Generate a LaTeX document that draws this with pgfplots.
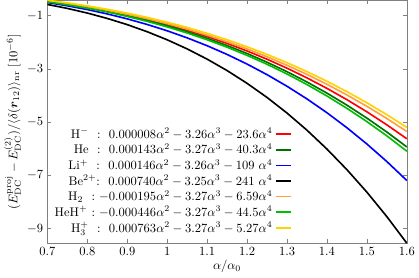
\documentclass[border=0pt]{standalone}
\usepackage{amsmath}
\usepackage{pgfplots}
\pgfplotsset{compat=1.18}
\definecolor{cdkgreen}{RGB}{0,110,0}
\definecolor{corange}{RGB}{255,160,60}
\definecolor{cgreen}{RGB}{0,190,0}
\definecolor{cyellow}{RGB}{255,210,0}
\begin{document}
\begin{tikzpicture}
\begin{axis}[
  scale only axis,
  width=287pt, height=194pt,
  xmin=0.7, xmax=1.6, ymin=-9.551, ymax=-0.4195,
  xtick={0.7,0.8,0.9,1,1.1,1.2,1.3,1.4,1.5,1.6},
  ytick={-9,-7,-5,-3,-1},
  tick align=inside,
  major tick length=3pt,
  axis line style={gray},
  every tick/.style={gray},
  xlabel={$\alpha/\alpha_0$},
  ylabel={$(E_{\mathrm{DC}}^{\mathrm{proj}}-E_{\mathrm{DC}}^{(2)})/\langle\delta(\boldsymbol{r}_{12})\rangle_{\mathrm{nr}}$ [$10^{-6}$]},
  xlabel style={yshift=3pt},
  ylabel style={yshift=-2pt},
  legend plot pos=right,
  legend cell align=right,
  legend style={draw=none, fill=none, at={(0.68,0.025)}, anchor=south east, inner sep=0pt, row sep=-1.2pt,
    /tikz/every even column/.append style={column sep=3pt}},
  legend image code/.code={\draw[#1, line width=1.3pt] (0pt,0pt) -- (12pt,0pt);},
  every axis plot/.append style={line width=1.3pt},
]
\addplot[red] coordinates {(0.70,-0.450)(0.75,-0.555)(0.80,-0.676)(0.85,-0.813)(0.90,-0.967)(0.95,-1.140)(1.00,-1.333)(1.05,-1.547)(1.10,-1.784)(1.15,-2.043)(1.20,-2.327)(1.25,-2.637)(1.30,-2.974)(1.35,-3.338)(1.40,-3.732)(1.45,-4.157)(1.50,-4.613)(1.55,-5.103)(1.60,-5.626)};
\addlegendentry{\makebox[2.3em][r]{H$^-$}\ \ :\ \ $0.000008\alpha^2-3.26\alpha^3-23.6\alpha^4$}
\addplot[cdkgreen] coordinates {(0.70,-0.460)(0.75,-0.568)(0.80,-0.693)(0.85,-0.835)(0.90,-0.995)(0.95,-1.176)(1.00,-1.377)(1.05,-1.602)(1.10,-1.849)(1.15,-2.122)(1.20,-2.422)(1.25,-2.749)(1.30,-3.105)(1.35,-3.492)(1.40,-3.911)(1.45,-4.363)(1.50,-4.850)(1.55,-5.373)(1.60,-5.934)};
\addlegendentry{\makebox[2.3em][r]{He}\ \ :\ \ $0.000143\alpha^2-3.27\alpha^3-40.3\alpha^4$}
\addplot[blue] coordinates {(0.70,-0.505)(0.75,-0.628)(0.80,-0.770)(0.85,-0.934)(0.90,-1.120)(0.95,-1.331)(1.00,-1.568)(1.05,-1.834)(1.10,-2.129)(1.15,-2.457)(1.20,-2.819)(1.25,-3.217)(1.30,-3.653)(1.35,-4.129)(1.40,-4.648)(1.45,-5.212)(1.50,-5.823)(1.55,-6.483)(1.60,-7.195)};
\addlegendentry{\makebox[2.3em][r]{Li$^+$}\ \ :\ \ $0.000146\alpha^2-3.26\alpha^3-109\ \alpha^4$}
\addplot[black] coordinates {(0.70,-0.578)(0.75,-0.727)(0.80,-0.901)(0.85,-1.104)(0.90,-1.337)(0.95,-1.604)(1.00,-1.907)(1.05,-2.249)(1.10,-2.634)(1.15,-3.064)(1.20,-3.543)(1.25,-4.074)(1.30,-4.660)(1.35,-5.305)(1.40,-6.014)(1.45,-6.788)(1.50,-7.633)(1.55,-8.553)(1.60,-9.551)};
\addlegendentry{\makebox[2.3em][r]{Be$^{2+}$}:\ \ $0.000740\alpha^2-3.25\alpha^3-241\ \alpha^4$}
\addplot[corange] coordinates {(0.70,-0.445)(0.75,-0.548)(0.80,-0.665)(0.85,-0.798)(0.90,-0.947)(0.95,-1.114)(1.00,-1.300)(1.05,-1.505)(1.10,-1.731)(1.15,-1.979)(1.20,-2.249)(1.25,-2.544)(1.30,-2.863)(1.35,-3.207)(1.40,-3.579)(1.45,-3.978)(1.50,-4.407)(1.55,-4.865)(1.60,-5.354)};
\addlegendentry{\makebox[2.3em][r]{H$_2$}\ \ :\ $-0.000195\alpha^2-3.27\alpha^3-6.59\alpha^4$}
\addplot[cgreen] coordinates {(0.70,-0.478)(0.75,-0.589)(0.80,-0.717)(0.85,-0.863)(0.90,-1.028)(0.95,-1.214)(1.00,-1.421)(1.05,-1.651)(1.10,-1.905)(1.15,-2.185)(1.20,-2.492)(1.25,-2.827)(1.30,-3.192)(1.35,-3.589)(1.40,-4.018)(1.45,-4.482)(1.50,-4.981)(1.55,-5.517)(1.60,-6.093)};
\addlegendentry{\makebox[2.3em][r]{HeH$^+$}\ :\ $-0.000446\alpha^2-3.27\alpha^3-44.5\alpha^4$}
\addplot[cyellow] coordinates {(0.70,-0.420)(0.75,-0.518)(0.80,-0.631)(0.85,-0.759)(0.90,-0.903)(0.95,-1.065)(1.00,-1.245)(1.05,-1.444)(1.10,-1.664)(1.15,-1.905)(1.20,-2.168)(1.25,-2.455)(1.30,-2.766)(1.35,-3.102)(1.40,-3.465)(1.45,-3.855)(1.50,-4.273)(1.55,-4.721)(1.60,-5.199)};
\addlegendentry{\makebox[2.3em][r]{H$_3^+$}\ \ :\ \ $0.000763\alpha^2-3.27\alpha^3-5.27\alpha^4$}
\end{axis}
\end{tikzpicture}
\end{document}
